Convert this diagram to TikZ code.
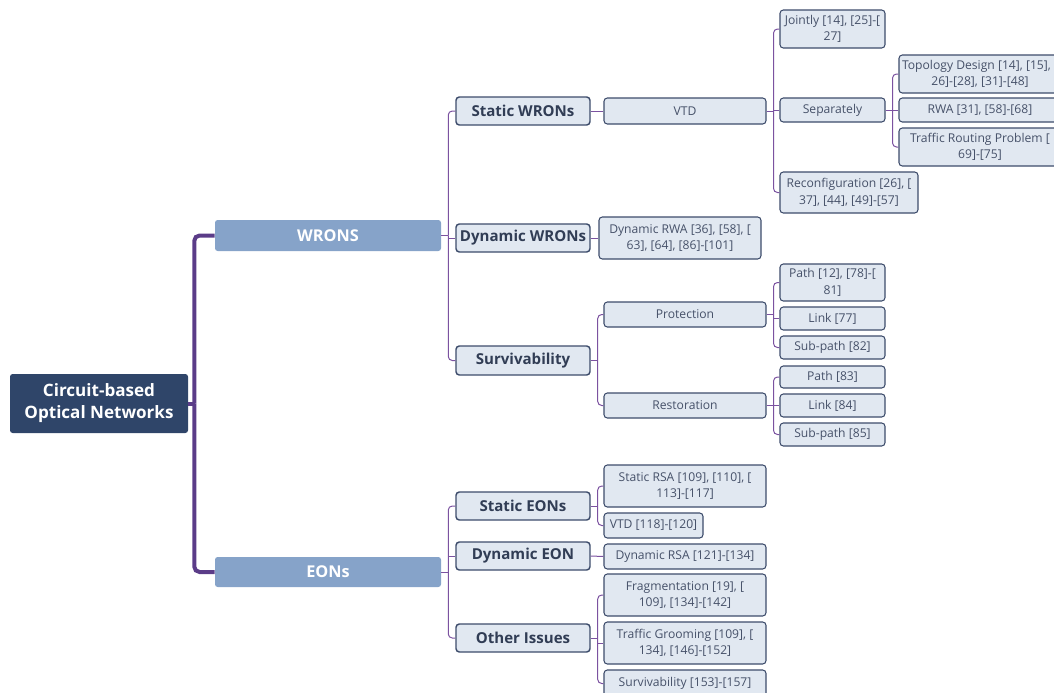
\documentclass[tikz,border=0pt]{standalone}
\usepackage{fontspec}
\setmainfont{Open Sans}
\definecolor{rootc}{HTML}{2F4569}
\definecolor{mainc}{HTML}{86A3C9}
\definecolor{boxfill}{HTML}{E1E8F1}
\definecolor{boxdraw}{HTML}{3D4C6B}
\definecolor{trunkc}{HTML}{5B3C88}
\definecolor{connc}{HTML}{7B52A0}
\definecolor{darktxt}{HTML}{313D55}
\definecolor{regtxt}{HTML}{465169}
\newcommand{\branch}[3]{%
  \draw[conn] (#1.east) -- ++(7,0);
  \draw[conn, rounded corners=3] (#1.east) ++(7,0) |- (#2.west);
  \draw[conn, rounded corners=3] (#1.east) ++(7,0) |- (#3.west);}
\begin{document}
\begin{tikzpicture}[x=0.75pt,y=-0.75pt,
  sz/.style 2 args={minimum width={#1*0.75pt}, minimum height={#2*0.75pt}},
  rootbox/.style={fill=rootc, rounded corners=2pt, text=white, inner sep=0pt,
    font=\bfseries\fontsize{12.8}{16.5}\selectfont, align=center},
  mainbox/.style={fill=mainc, rounded corners=2pt, text=white, inner sep=0pt,
    font=\bfseries\fontsize{12.2}{15}\selectfont, align=center},
  lvtwo/.style={fill=boxfill, draw=boxdraw, line width=1.1pt, rounded corners=2.5pt, text=darktxt, inner sep=0pt,
    font=\bfseries\fontsize{11.3}{14}\selectfont, align=center},
  leaf/.style={fill=boxfill, draw=boxdraw, line width=0.8pt, rounded corners=2.5pt, text=regtxt, inner sep=0pt,
    font=\fontsize{9.1}{12.3}\selectfont, align=center},
  conn/.style={draw=connc, line width=0.75pt},
  trunk/.style={draw=trunkc, line width=3pt, rounded corners=4}]
\useasboundingbox (0,0) rectangle (1054,693);
\clip (0,0) rectangle (1054,693);

% root and main
\node[rootbox, sz={178}{59}] (root) at (99,403.5) {Circuit-based\\Optical Networks};
\node[mainbox, sz={226}{31}] (wrons) at (328,235.5) {WRONS};
\node[mainbox, sz={226}{30}] (eons) at (328,572) {EONs};

% level 2
\node[lvtwo, sz={134}{28}] (swron) at (523,111) {Static WRONs};
\node[lvtwo, sz={134}{28}] (dwron) at (523,238) {Dynamic WRONs};
\node[lvtwo, sz={134}{29}] (surv) at (523,360.5) {Survivability};
\node[lvtwo, sz={134}{28}] (seon) at (523,506) {Static EONs};
\node[lvtwo, sz={134}{28}] (deon) at (523,556) {Dynamic EON};
\node[lvtwo, sz={134}{28}] (other) at (523,638) {Other Issues};

% level 3
\node[leaf, sz={162}{26}] (vtd) at (685,111) {VTD};
\node[leaf, sz={162}{42}] (drwa) at (680,238) {Dynamic RWA [36], [58], [\\63], [64], [86]-[101]};
\node[leaf, sz={162}{25}] (prot) at (685,314.5) {Protection};
\node[leaf, sz={162}{25}] (rest) at (685,405.5) {Restoration};
\node[leaf, sz={162}{42}] (srsa) at (685,486) {Static RSA [109], [110], [\\113]-[117]};
\node[leaf, sz={99}{25}] (vtdb) at (653.5,525.5) {VTD [118]-[120]};
\node[leaf, sz={162}{25}] (drsa) at (685,556.5) {Dynamic RSA [121]-[134]};
\node[leaf, sz={162}{42}] (frag) at (685,595) {Fragmentation [19], [\\109], [134]-[142]};
\node[leaf, sz={162}{42}] (groom) at (685,643) {Traffic Grooming [109], [\\134], [146]-[152]};
\node[leaf, sz={162}{27}] (survb) at (685,683.5) {Survivability [153]-[157]};

% level 4
\node[leaf, sz={105}{38}] (joint) at (832.5,29) {Jointly [14], [25]-[\\27]};
\node[leaf, sz={105}{24}] (sep) at (832.5,110) {Separately};
\node[leaf, sz={138}{41}] (reconf) at (849,192.5) {Reconfiguration [26], [\\37], [44], [49]-[57]};
\node[leaf, sz={105}{37}] (pathA) at (832.5,282.5) {Path [12], [78]-[\\81]};
\node[leaf, sz={105}{23}] (linkA) at (832.5,318.5) {Link [77]};
\node[leaf, sz={105}{23}] (subA) at (832.5,347.5) {Sub-path [82]};
\node[leaf, sz={105}{22}] (pathB) at (832.5,377) {Path [83]};
\node[leaf, sz={105}{23}] (linkB) at (832.5,405.5) {Link [84]};
\node[leaf, sz={105}{23}] (subB) at (832.5,434.5) {Sub-path [85]};

% level 5
\node[leaf, sz={162}{38}] (topo) at (980,74) {Topology Design [14], [15], [\\26]-[28], [31]-[48]};
\node[leaf, sz={162}{24}] (rwa) at (980,110) {RWA [31], [58]-[68]};
\node[leaf, sz={162}{38}] (trp) at (980,147) {Traffic Routing Problem [\\69]-[75]};

% trunk
\draw[trunkc, line width=3pt] (root.east) -- ++(7,0);
\draw[trunk] (root.east) ++(6,0) |- (wrons.west);
\draw[trunk] (root.east) ++(6,0) |- (eons.west);

% connectors
\branch{wrons}{swron}{surv}
\draw[conn] (wrons.east) ++(7,0) |- (dwron.west);
\draw[conn] (swron.east) -- (vtd.west);
\draw[conn] (dwron.east) -- (drwa.west);
\branch{vtd}{joint}{reconf}
\draw[conn] (vtd.east) ++(7,0) |- (sep.west);
\branch{sep}{topo}{trp}
\draw[conn] (sep.east) ++(7,0) |- (rwa.west);
\branch{surv}{prot}{rest}
\branch{prot}{pathA}{subA}
\draw[conn] (prot.east) ++(7,0) |- (linkA.west);
\branch{rest}{pathB}{subB}
\draw[conn] (rest.east) ++(7,0) |- (linkB.west);

\branch{eons}{seon}{other}
\draw[conn] (eons.east) ++(7,0) |- (deon.west);
\branch{seon}{srsa}{vtdb}
\draw[conn] (deon.east) -- (drsa.west);
\branch{other}{frag}{survb}
\draw[conn] (other.east) ++(7,0) |- (groom.west);
\end{tikzpicture}
\end{document}
